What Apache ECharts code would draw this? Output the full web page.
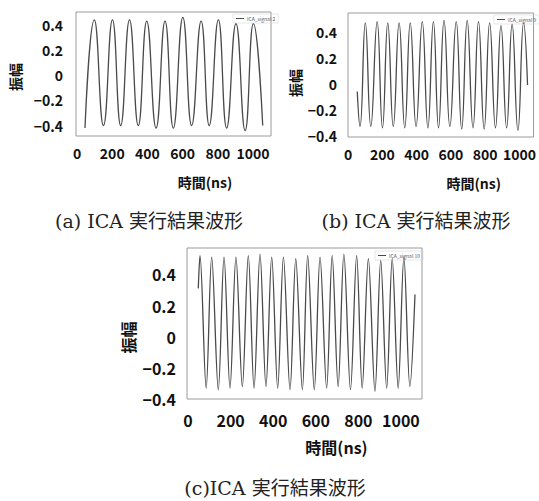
<!DOCTYPE html>
<html>
<head>
<meta charset="utf-8">
<script src="https://cdn.jsdelivr.net/npm/echarts@6/dist/echarts.min.js"></script>
<style>
html,body{margin:0;padding:0;background:#fff;}
#chart{width:539px;height:501px;}
</style>
</head>
<body>
<div id="chart"></div>
<script>
// ---- data ----
const xTicks = [0, 200, 400, 600, 800, 1000];
const yTicks = [-0.4, -0.2, 0, 0.2, 0.4];
const yName = '振幅';
const xName = '時間(ns)';
const captions = ['(a) ICA 実行結果波形', '(b) ICA 実行結果波形', '(c)ICA 実行結果波形'];
const seriesNames = ['ICA_signal 2', 'ICA_signal 9', 'ICA_signal 10'];

const timeA = [45, 98, 150, 201, 248, 298, 348, 396, 449, 500, 547, 601, 651, 705, 751, 803, 850, 903, 955, 1002, 1055];
const ampA  = [-0.42, 0.44, -0.40, 0.44, -0.40, 0.44, -0.40, 0.43, -0.42, 0.43, -0.42, 0.46, -0.40, 0.43, -0.40, 0.44, -0.42, 0.41, -0.44, 0.41, -0.40];

const timeB = [54, 70, 101, 133, 170, 201, 232, 264, 298, 331, 363, 397, 433, 466, 498, 528, 560, 594, 631, 663, 695, 729, 761, 794, 826, 860, 892, 925, 957, 991, 1024, 1047];
const ampB  = [-0.06, -0.33, 0.47, -0.33, 0.48, -0.34, 0.47, -0.33, 0.47, -0.34, 0.47, -0.33, 0.48, -0.34, 0.48, -0.34, 0.49, -0.33, 0.48, -0.35, 0.49, -0.34, 0.48, -0.35, 0.47, -0.34, 0.45, -0.34, 0.46, -0.36, 0.47, -0.01];

const timeC = [48, 56, 85, 111, 142, 169, 197, 225, 255, 283, 310, 338, 366, 393, 421, 448, 479, 506, 537, 562, 593, 620, 651, 677, 705, 732, 763, 792, 818, 847, 878, 905, 933, 959, 987, 1014, 1042, 1066];
const ampC  = [0.31, 0.52, -0.33, 0.51, -0.34, 0.51, -0.33, 0.51, -0.32, 0.52, -0.33, 0.53, -0.32, 0.51, -0.33, 0.51, -0.34, 0.50, -0.34, 0.52, -0.34, 0.51, -0.33, 0.52, -0.32, 0.53, -0.34, 0.52, -0.33, 0.50, -0.35, 0.49, -0.33, 0.50, -0.33, 0.51, -0.32, 0.27];

// ---- layout / style ----
const sansFont = "'Noto Sans CJK JP', 'DejaVu Sans', sans-serif";
const serifFont = "'DejaVu Serif', 'Noto Sans CJK JP', serif";
const lineColor = '#4a4a4a';
const frameColor = '#9a9a9a';

const panels = [
  {grid:{left:76, top:12, width:195, height:124}, x:[-6, 1102], y:[-0.483, 0.502], fs:14, lm:13, xm:10, ygap:54, ypad:[0,6,0,0], xgap:39, xpad:[0,0,0,63], smooth:0.5,
   legend:{left:233, top:14}},
  {grid:{left:348, top:13, width:193, height:124}, x:[0, 1082], y:[-0.411, 0.547], fs:14, lm:11, xm:10, ygap:46, ypad:[0,16,0,0], xgap:39, xpad:[0,0,0,66], smooth:0.5,
   legend:{left:494, top:15}},
  {grid:{left:187, top:248, width:235, height:151}, x:[-5, 1099], y:[-0.40, 0.569], fs:16, lm:11, xm:13, ygap:51, ypad:[0,28,0,0], xgap:40, xpad:[0,0,0,64], smooth:0.35,
   legend:{left:375, top:251}}
];
const times = [timeA, timeB, timeC];
const amps = [ampA, ampB, ampC];

function yFmt(v){
  if (Math.abs(v) < 1e-9) return '0';
  return (v < 0 ? '\u2212' : '') + Math.abs(v).toFixed(1);
}

const option = {
  backgroundColor: '#ffffff',
  animation: false,
  title: [
    {text: captions[0], left: 144, top: 206, textAlign: 'center', textStyle:{fontFamily: serifFont, fontSize: 19, fontWeight: 'normal', color:'#222'}},
    {text: captions[1], left: 411, top: 206, textAlign: 'center', textStyle:{fontFamily: serifFont, fontSize: 19, fontWeight: 'normal', color:'#222'}},
    {text: captions[2], left: 270, top: 473, textAlign: 'center', textStyle:{fontFamily: serifFont, fontSize: 19, fontWeight: 'normal', color:'#222'}}
  ],
  legend: panels.map((p, i) => ({
    data: [seriesNames[i]], left: p.legend.left, top: p.legend.top, orient: 'vertical',
    icon: 'rect', itemWidth: 8, itemHeight: 1, itemGap: 2, padding: [2, 3],
    borderColor: '#cccccc', borderWidth: 0.5,
    textStyle: {fontSize: 5, color: '#555', fontFamily: sansFont, padding: [0,0,0,-2]}
  })),
  grid: panels.map(p => Object.assign({show: true, borderColor: frameColor, borderWidth: 1, backgroundColor: '#fff'}, p.grid)),
  xAxis: panels.map((p, i) => ({
    type: 'value', gridIndex: i, min: p.x[0], max: p.x[1],
    axisLine: {show: false}, axisTick: {show: false}, splitLine: {show: false},
    axisLabel: {customValues: xTicks, formatter: v => String(v), margin: p.xm,
      fontFamily: sansFont, fontSize: p.fs, fontWeight: 'bold', color: '#111'},
    name: xName, nameLocation: 'middle', nameGap: p.xgap,
    nameTextStyle: {fontFamily: sansFont, fontSize: p.fs, fontWeight: 'bold', color: '#111', padding: p.xpad}
  })),
  yAxis: panels.map((p, i) => ({
    type: 'value', gridIndex: i, min: p.y[0], max: p.y[1],
    axisLine: {show: false}, axisTick: {show: false}, splitLine: {show: false},
    axisLabel: {customValues: yTicks, formatter: yFmt, margin: p.lm,
      fontFamily: sansFont, fontSize: p.fs, fontWeight: 'bold', color: '#111'},
    name: yName, nameLocation: 'middle', nameGap: p.ygap, nameRotate: 90,
    nameTextStyle: {fontFamily: sansFont, fontSize: p.fs, fontWeight: 'bold', color: '#111', padding: p.ypad}
  })),
  series: panels.map((p, i) => ({
    name: seriesNames[i], type: 'line', xAxisIndex: i, yAxisIndex: i,
    data: times[i].map((t, k) => [t, amps[i][k]]),
    smooth: p.smooth, symbol: 'none',
    lineStyle: {color: lineColor, width: 1.3}, itemStyle: {color: lineColor}
  }))
};

const chart = echarts.init(document.getElementById('chart'), null, {renderer: 'svg'});
chart.setOption(option);
</script>
</body>
</html>
